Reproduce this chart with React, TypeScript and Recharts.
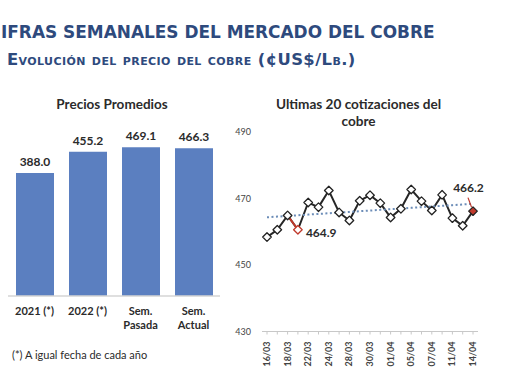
import React from 'react';
import { BarChart, Bar, XAxis, YAxis, LabelList, LineChart, Line, ReferenceLine } from 'recharts';

const barCategories = ['2021 (*)', '2022 (*)', 'Sem.\nPasada', 'Sem.\nActual'];
const barValues = [388.0, 455.2, 469.1, 466.3];

const dates = ['16/03', '17/03', '18/03', '21/03', '22/03', '23/03', '24/03', '25/03', '28/03', '29/03', '30/03',
  '31/03', '01/04', '04/04', '05/04', '06/04', '07/04', '08/04', '11/04', '13/04', '14/04'];
const prices = [458.4, 460.6, 464.9, 460.6, 468.8, 467.4, 472.4, 465.8, 463.4, 469.3, 471.0,
  468.6, 464.3, 466.9, 472.7, 469.2, 466.4, 471.1, 464.1, 461.8, 466.2];
const priceTicks = [430, 450, 470, 490];
const calloutIndex = [3, 20];
const calloutText = ['464.9', '466.2'];

const titleText = 'IFRAS SEMANALES DEL MERCADO DEL COBRE';
const subtitleText = 'Evolución del precio del cobre (¢US$/Lb.)';
const barTitle = 'Precios Promedios';
const lineTitle = ['Ultimas 20 cotizaciones del', 'cobre'];
const footnote = '(*) A igual fecha de cada año';

const barData = barCategories.map((c, i) => ({ cat: c, value: barValues[i] }));

// linear trend line (least squares) from the series
const n = prices.length;
const xm = (n - 1) / 2;
const ym = prices.reduce((a, b) => a + b, 0) / n;
let num = 0, den = 0;
prices.forEach((p, i) => { num += (i - xm) * (p - ym); den += (i - xm) * (i - xm); });
const slope = num / den;
const lineData = dates.map((d, i) => ({ date: d, price: prices[i], trend: ym + slope * (i - xm) }));

const FONT = 'Lato, "Open Sans", sans-serif';
const BLUE_TITLE = '#2E4A7D';
const TEXT = '#2b2b2b';
const RED = '#C0392B';

const BarTick = (props: any) => {
  const { x, y, payload } = props;
  const lines = String(payload.value).split('\n');
  return (
    <g transform={`translate(${x},${y})`}>
      <text textAnchor="middle" fontFamily={FONT} fontWeight="bold" fontSize={11} fill={TEXT}>
        {lines.map((l, i) => (
          <tspan key={i} x={0} y={11 + i * 14}>{l}</tspan>
        ))}
      </text>
    </g>
  );
};

const DateTick = (props: any) => {
  const { x, y, payload, index } = props;
  if (index % 2 !== 0) return <g />;
  return (
    <g transform={`translate(${x},${y})`}>
      <text transform="rotate(-90)" x={-5} y={0} dy={3} textAnchor="end" fontFamily={FONT}
        fontWeight="bold" fontSize={9} fill="#444">
        {payload.value}
      </text>
    </g>
  );
};

const DiamondDot = (props: any) => {
  const { cx, cy, index } = props;
  if (cx == null || cy == null) return null;
  const s = 4.3;
  const isRedOutline = index === calloutIndex[0];
  const isRedFill = index === calloutIndex[1];
  return (
    <path
      key={`d-${index}`}
      d={`M${cx},${cy - s} L${cx + s},${cy} L${cx},${cy + s} L${cx - s},${cy} Z`}
      fill={isRedFill ? RED : '#fff'}
      stroke={isRedOutline ? RED : '#222'}
      strokeWidth={1.3}
      strokeLinejoin="round"
    />
  );
};

const Callout = (props: any) => {
  const { x, y, index } = props;
  const k = calloutIndex.indexOf(index);
  if (k < 0) return null;
  if (k === 0) {
    return (
      <text x={x + 8} y={y + 7} fontFamily={FONT} fontWeight="bold" fontSize={12} fill={TEXT}>
        {calloutText[k]}
      </text>
    );
  }
  return (
    <g>
      <line x1={x - 5} y1={y - 13.5} x2={x - 1.5} y2={y - 4} stroke={RED} strokeWidth={1.2} />
      <text x={x - 4.5} y={y - 19} textAnchor="middle" fontFamily={FONT} fontWeight="bold" fontSize={12} fill={TEXT}>
        {calloutText[k]}
      </text>
    </g>
  );
};

export default function App() {
  return (
    <div style={{ position: 'absolute', left: 0, top: 0, width: 510, height: 382, background: '#fff', overflow: 'hidden', fontFamily: FONT }}>
      <div style={{ position: 'absolute', left: 1, top: 20, lineHeight: '24px', fontFamily: '"DejaVu Sans", sans-serif', fontWeight: 'bold', fontSize: 18, color: BLUE_TITLE, whiteSpace: 'nowrap', transform: 'scaleX(0.94)', transformOrigin: '0 0' }}>
        {titleText}
      </div>
      <div style={{ position: 'absolute', left: 7, top: 49, lineHeight: '22px', fontFamily: '"DejaVu Sans", sans-serif', fontWeight: 'bold', fontSize: 16.4, letterSpacing: 0.4, fontVariant: 'small-caps', color: BLUE_TITLE, whiteSpace: 'nowrap' }}>
        {subtitleText}
      </div>

      <div style={{ position: 'absolute', left: 0, width: 224, top: 95, lineHeight: '18px', textAlign: 'center', fontWeight: 'bold', fontSize: 13.5, color: TEXT }}>
        {barTitle}
      </div>
      <div style={{ position: 'absolute', left: 258, width: 201, top: 96, lineHeight: '17px', textAlign: 'center', fontWeight: 'bold', fontSize: 13.6, color: TEXT }}>
        {lineTitle[0]}<br />{lineTitle[1]}
      </div>
      <div style={{ position: 'absolute', left: 12, top: 347, lineHeight: '16px', fontSize: 11, color: TEXT, whiteSpace: 'nowrap' }}>
        {footnote}
      </div>

      <div style={{ position: 'absolute', left: 0, top: 115 }}>
        <BarChart width={230} height={225} data={barData} margin={{ top: 22.5, right: 10, bottom: 0, left: 8 }} barSize={38}>
          <XAxis dataKey="cat" axisLine={{ stroke: '#d4d4d4', strokeWidth: 1.5 }} tickLine={false} height={44} interval={0} tick={<BarTick />} />
          <YAxis hide domain={[0, 500]} />
          <Bar dataKey="value" fill="#5B7FC0" isAnimationActive={false}>
            <LabelList dataKey="value" position="top" offset={7} formatter={(v: any) => Number(v).toFixed(1)}
              style={{ fontFamily: FONT, fontWeight: 'bold', fontSize: 12, fill: TEXT }} />
          </Bar>
        </BarChart>
      </div>

      <div style={{ position: 'absolute', left: 226, top: 120 }}>
        <LineChart width={284} height={252} data={lineData} margin={{ top: 12, right: 32, bottom: 0, left: 2 }}>
          <XAxis dataKey="date" interval={0} height={40.5} padding={{ left: 5, right: 5 }}
            axisLine={{ stroke: '#c8c8c8' }} tickLine={{ stroke: '#c8c8c8' }} tickSize={3} tick={<DateTick />} />
          <YAxis domain={[430, 490]} ticks={priceTicks} width={34} axisLine={false} tickLine={false} tickMargin={5}
            tick={{ fontFamily: FONT, fontSize: 9, fill: '#444' }} />
          <Line dataKey="price" stroke="#262626" strokeWidth={2} isAnimationActive={false} dot={<DiamondDot />} activeDot={false}>
            <LabelList dataKey="price" content={<Callout />} />
          </Line>
          <ReferenceLine segment={[{ x: dates[2], y: prices[2] }, { x: dates[3], y: prices[3] }]} stroke={RED} strokeWidth={2} />
          <Line dataKey="trend" stroke="#6C8DB8" strokeWidth={2} strokeDasharray="2 2.5" dot={false} activeDot={false} isAnimationActive={false} />
        </LineChart>
      </div>
    </div>
  );
}
